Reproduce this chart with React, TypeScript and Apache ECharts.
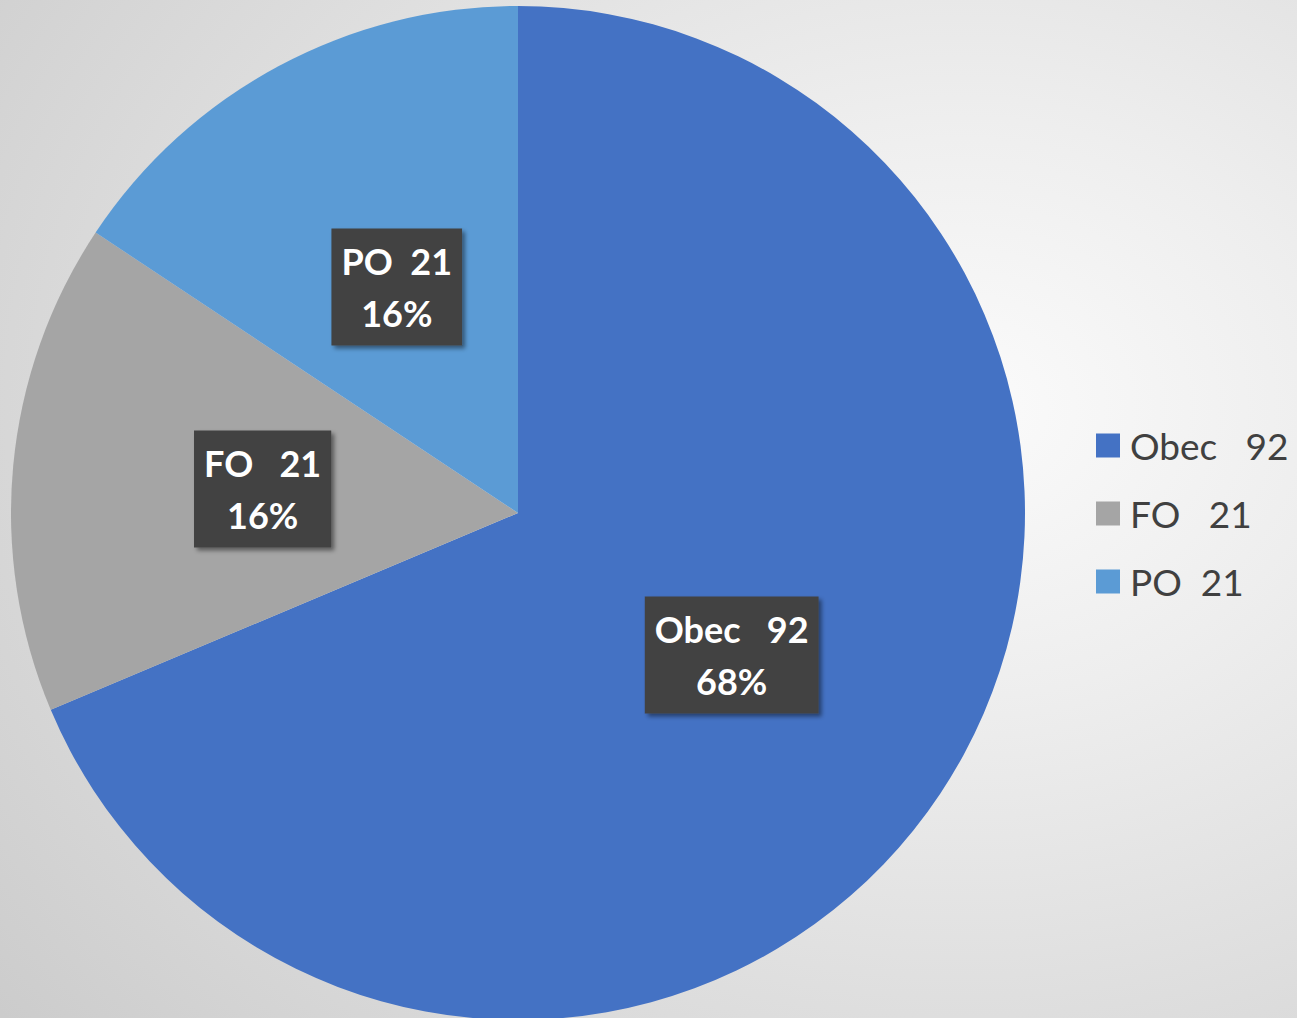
import React, { useEffect, useRef } from "react";
import * as echarts from "echarts";

const categories = ["Obec   92", "FO   21", "PO  21"];
const values = [92, 21, 21];
const percentLabels = [68, 16, 16];
const sliceColors = ["#4472C4", "#A5A5A5", "#5B9BD5"];

export default function App() {
  const ref = useRef<HTMLDivElement>(null);
  useEffect(() => {
    if (!ref.current) return;
    const chart = echarts.init(ref.current, null, { renderer: "svg" });
    const data = categories.map((name, i) => ({
      name,
      value: values[i],
      itemStyle: { color: sliceColors[i] },
    }));
    chart.setOption({
      animation: false,
      backgroundColor: {
        type: "radial",
        x: 0.74,
        y: 0.4,
        r: 0.95,
        colorStops: [
          { offset: 0, color: "#fbfbfb" },
          { offset: 0.3, color: "#eeeeee" },
          { offset: 1, color: "#cccccc" },
        ],
      },
      legend: {
        orient: "vertical",
        left: 1091,
        top: 422,
        icon: "rect",
        itemWidth: 24,
        itemHeight: 24,
        itemGap: 31,
        data: categories,
        textStyle: {
          fontFamily: "Lato",
          fontSize: 37,
          color: "#404040",
          padding: [0, 0, 0, 5],
        },
      },
      series: [
        {
          type: "pie",
          center: [518, 513],
          radius: [0, 507],
          startAngle: 90,
          clockwise: true,
          data,
          label: {
            show: true,
            position: "inside",
            formatter: (p: any) => `${p.name}\n${percentLabels[p.dataIndex]}%`,
            fontFamily: "Lato",
            fontWeight: "bold",
            fontSize: 36,
            lineHeight: 52,
            color: "#ffffff",
            backgroundColor: "#424242",
            padding: [7, 10, 6, 10],
            shadowColor: "rgba(0,0,0,0.45)",
            shadowBlur: 4,
            shadowOffsetX: 3,
            shadowOffsetY: 3,
            align: "center",
          },
          labelLine: { show: false },
          emphasis: { disabled: true },
        },
      ],
    });
    return () => chart.dispose();
  }, []);
  return (
    <div
      ref={ref}
      style={{ position: "absolute", left: 0, top: 0, width: 1297, height: 1018 }}
    />
  );
}
